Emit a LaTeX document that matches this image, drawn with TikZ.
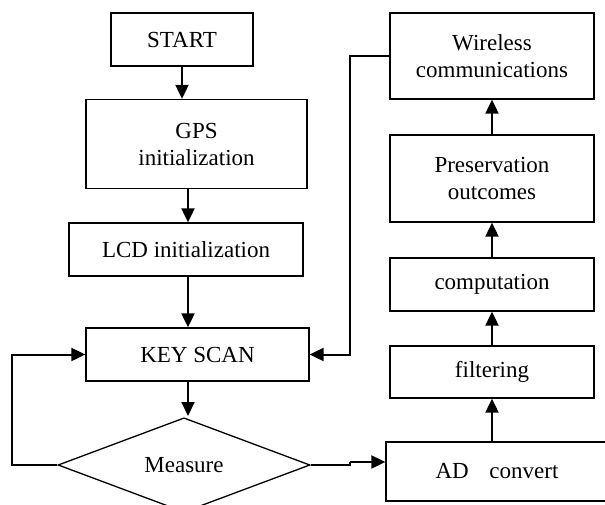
\documentclass[tikz,border=0pt]{standalone}
\usepackage{fontspec}
\setmainfont{Liberation Serif}
\usetikzlibrary{shapes.geometric,arrows.meta}

\begin{document}
\begin{tikzpicture}[x=1pt,y=-1pt,
  box/.style={draw,line width=1.3pt,align=center,inner sep=0pt,font=\fontsize{23}{27}\selectfont},
  arr/.style={line width=2pt,-{Triangle[length=14pt,width=13pt]}},
  link/.style={line width=2pt}]
\useasboundingbox (0,0) rectangle (605,504);

\node[box,minimum width=142pt,minimum height=53pt] (start) at (182,39.5) {START};
\node[box,minimum width=221pt,minimum height=89pt] (gps) at (196.5,144) {GPS\\initialization};
\node[box,minimum width=234pt,minimum height=53pt] (lcd) at (186,249.5) {LCD initialization};
\node[box,minimum width=223pt,minimum height=53pt] (key) at (197.5,354.5) {KEY SCAN};
\node[box,diamond,minimum width=252pt,minimum height=84pt] (meas) at (184,465) {Measure};

\node[box,minimum width=204pt,minimum height=86pt] (wl) at (492,56) {Wireless\\communications};
\node[box,minimum width=204pt,minimum height=87pt] (pres) at (492,178.5) {Preservation\\outcomes};
\node[box,minimum width=204pt,minimum height=53pt] (comp) at (492,284.5) {computation};
\node[box,minimum width=204pt,minimum height=52pt] (filt) at (492,372) {filtering};
\node[box,minimum width=222pt,minimum height=59pt] (ad) at (497,471.5) {AD\hspace{0.9em}convert};

\draw[arr] (start) -- (start |- gps.north);
\draw[arr] (gps.south -| 188,0) -- (188,0 |- lcd.north);
\draw[arr] (lcd.south -| 188,0) -- (188,0 |- key.north);
\draw[arr] (key.south -| 188,0) -- (188,416);

\draw[arr] (meas.west) -- (12,465) |- (key.west);
\draw[arr] (wl.west) -- (350,56) |- (key.east);

\coordinate (jog) at (350,462);
\draw[link] (meas.east) -- (350,465) -- (jog);
\draw[arr] (jog) -- (ad.west |- jog);

\draw[arr] (ad.north -| filt) -- (filt.south);
\draw[arr] (filt) -- (comp);
\draw[arr] (comp) -- (pres);
\draw[arr] (pres) -- (wl);

\end{tikzpicture}
\end{document}
